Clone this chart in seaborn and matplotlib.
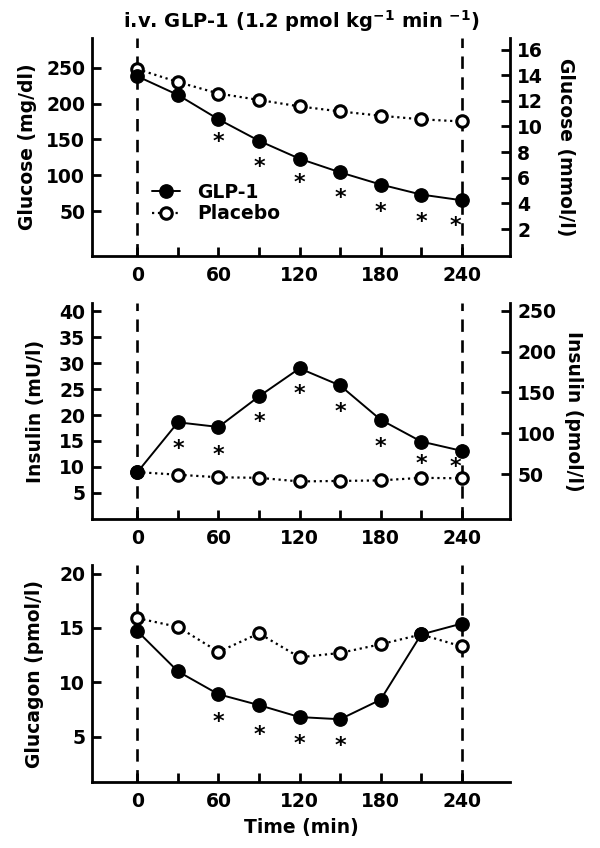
import matplotlib
matplotlib.use("Agg")
import matplotlib.pyplot as plt
import seaborn as sns

# ----------------- Data -----------------
time_min = [0, 30, 60, 90, 120, 150, 180, 210, 240]
x_ticks = [0, 30, 60, 90, 120, 150, 180, 210, 240]
x_tick_labels = ["0", "", "60", "", "120", "", "180", "", "240"]

glucose_glp1 = [238, 212, 178, 148, 123, 104, 87, 73, 65]
glucose_placebo = [248, 230, 214, 205, 196, 189, 183, 178, 175]
glucose_star_x = [60, 90, 120, 150, 180, 210, 235]
glucose_star_y = [152, 117, 95, 74, 54, 40, 35]

insulin_glp1 = [9.0, 18.6, 17.7, 23.6, 29.0, 25.7, 19.1, 14.9, 13.1]
insulin_placebo = [9.0, 8.5, 8.0, 7.9, 7.2, 7.3, 7.4, 7.9, 7.8]
insulin_star_x = [30, 60, 90, 120, 150, 180, 210, 235]
insulin_star_y = [14.2, 13.1, 19.4, 24.8, 21.4, 14.6, 11.3, 10.7]

glucagon_glp1 = [14.7, 11.0, 8.9, 7.9, 6.8, 6.6, 8.4, 14.4, 15.4]
glucagon_placebo = [15.9, 15.1, 12.8, 14.5, 12.3, 12.7, 13.5, 14.4, 13.3]
glucagon_star_x = [60, 90, 120, 150]
glucagon_star_y = [6.7, 5.5, 4.7, 4.5]

glucose_ticks = [50, 100, 150, 200, 250]
glucose_mmol_ticks = [2, 4, 6, 8, 10, 12, 14, 16]
insulin_ticks = [5, 10, 15, 20, 25, 30, 35, 40]
insulin_pmol_ticks = [50, 100, 150, 200, 250]
glucagon_ticks = [5, 10, 15, 20]

# ----------------- Style -----------------
sns.set_style("ticks")
plt.rcParams["font.family"] = ["DejaVu Sans"]
plt.rcParams["font.weight"] = "bold"
plt.rcParams["mathtext.default"] = "bf"
plt.rcParams["text.color"] = "black"
plt.rcParams["axes.labelcolor"] = "black"
plt.rcParams["xtick.color"] = "black"
plt.rcParams["ytick.color"] = "black"
plt.rcParams["axes.edgecolor"] = "black"

TICK_FS = 13.5
LABEL_FS = 13.5
STAR_FS = 16


def style_axis(ax, right=False):
    for side in ["top", "right", "left", "bottom"]:
        ax.spines[side].set_visible(False)
        ax.spines[side].set_linewidth(2)
        ax.spines[side].set_color("black")
    ax.spines["bottom"].set_visible(not right)
    ax.spines["right" if right else "left"].set_visible(True)
    ax.tick_params(axis="both", direction="in", length=6.5, width=2,
                   labelsize=TICK_FS, colors="black")
    ax.tick_params(axis="y", pad=4.5)
    ax.tick_params(axis="x", pad=7)


def draw_panel(ax, glp1, placebo, star_x, star_y, ylim, yticks, ylabel, label_x):
    ax.axvline(0, color="black", lw=1.9, ls=(0, (4.7, 3.2)), zorder=1)
    ax.axvline(240, color="black", lw=1.9, ls=(0, (4.7, 3.2)), zorder=1)
    sns.lineplot(x=time_min, y=placebo, ax=ax, color="black", lw=1.6,
                 linestyle=":", marker="o", markersize=8.3, markerfacecolor="white",
                 markeredgecolor="black", markeredgewidth=2.2, label="Placebo", zorder=3)
    sns.lineplot(x=time_min, y=glp1, ax=ax, color="black", lw=1.4,
                 marker="o", markersize=9.6, markerfacecolor="black",
                 markeredgecolor="black", markeredgewidth=1, label="GLP-1", zorder=4)
    # significance marks below the GLP-1 points
    for sx, sy in zip(star_x, star_y):
        ax.annotate("*", xy=(sx, sy), xytext=(0, -2.8), textcoords="offset points",
                    ha="center", va="center", fontsize=STAR_FS, fontweight="bold")
    ax.set_xlim(-34, 276)
    ax.set_ylim(*ylim)
    ax.set_xticks(x_ticks)
    ax.set_xticklabels(x_tick_labels)
    ax.set_yticks(yticks)
    ax.set_ylabel(ylabel, fontsize=LABEL_FS, fontweight="bold")
    ax.yaxis.set_label_coords(label_x, 0.5)
    ax.set_xlabel("")
    style_axis(ax)
    if ax.get_legend() is not None:
        ax.get_legend().remove()


fig = plt.figure(figsize=(6, 8.48), dpi=100)
ax_glu = fig.add_axes([0.1525, 0.6981, 0.698, 0.2571])
ax_ins = fig.add_axes([0.1525, 0.3876, 0.698, 0.2551])
ax_gcg = fig.add_axes([0.1525, 0.0775, 0.698, 0.2563])

# ----------------- Glucose -----------------
draw_panel(ax_glu, glucose_glp1, glucose_placebo, glucose_star_x, glucose_star_y,
           (-12.8, 291.5), glucose_ticks, "Glucose (mg/dl)", -0.131)
ax_glu_r = ax_glu.twinx()
ax_glu_r.set_ylim(-0.1, 16.9)
ax_glu_r.set_yticks(glucose_mmol_ticks)
ax_glu_r.set_ylabel("Glucose (mmol/l)", fontsize=LABEL_FS, fontweight="bold",
                    rotation=270, va="bottom")
ax_glu_r.yaxis.set_label_coords(1.108, 0.5)
style_axis(ax_glu_r, right=True)
ax_glu_r.tick_params(axis="y", pad=5)

handles, labels = ax_glu.get_legend_handles_labels()
order = [labels.index("GLP-1"), labels.index("Placebo")]
ax_glu.legend([handles[i] for i in order], [labels[i] for i in order],
              loc="upper left", bbox_to_anchor=(0.144, 0.335), frameon=False,
              borderaxespad=0, borderpad=0, handlelength=1.5, handletextpad=0.9,
              labelspacing=0.12, fontsize=LABEL_FS, numpoints=1)

ax_glu.set_title(r"i.v. GLP-1 (1.2 pmol kg$^{-1}$ min $^{-1}$)",
                 fontsize=14, fontweight="bold", pad=7)

# ----------------- Insulin -----------------
draw_panel(ax_ins, insulin_glp1, insulin_placebo, insulin_star_x, insulin_star_y,
           (-0.1, 41.6), insulin_ticks, "Insulin (mU/l)", -0.111)
ax_ins_r = ax_ins.twinx()
ax_ins_r.set_ylim(-5, 259.4)
ax_ins_r.set_yticks(insulin_pmol_ticks)
ax_ins_r.set_ylabel("Insulin (pmol/l)", fontsize=LABEL_FS, fontweight="bold",
                    rotation=270, va="bottom")
ax_ins_r.yaxis.set_label_coords(1.129, 0.5)
style_axis(ax_ins_r, right=True)
ax_ins_r.tick_params(axis="y", pad=5)

# ----------------- Glucagon -----------------
draw_panel(ax_gcg, glucagon_glp1, glucagon_placebo, glucagon_star_x, glucagon_star_y,
           (0.8, 20.8), glucagon_ticks, "Glucagon (pmol/l)", -0.113)
ax_gcg.set_xlabel("Time (min)", fontsize=LABEL_FS, fontweight="bold", labelpad=5)

fig.savefig("out.png", dpi=100)
